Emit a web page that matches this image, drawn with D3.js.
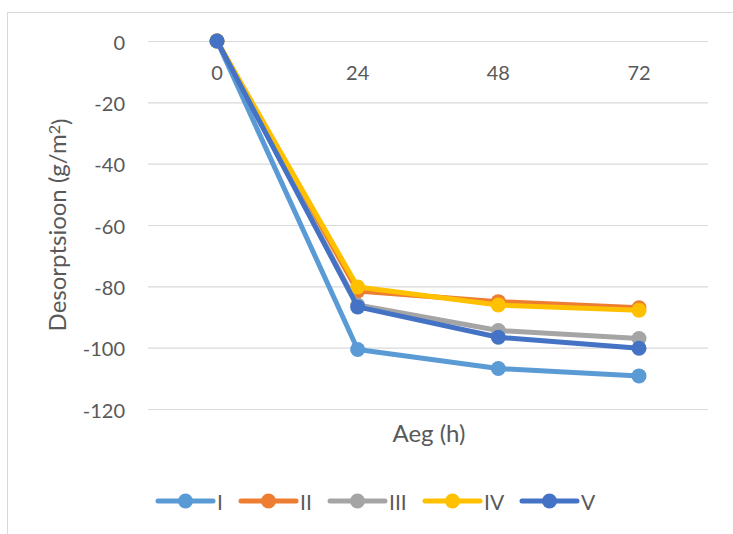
<!DOCTYPE html>
<html>
<head>
<meta charset="utf-8">
<script src="https://cdn.jsdelivr.net/npm/d3@7"></script>
<style>
  body { margin: 0; background: #fff; }
  svg text { font-family: Lato, "Open Sans", sans-serif; fill: #595959; }
</style>
</head>
<body>
<div id="chart"></div>
<script>
// data
var hours = ["0", "24", "48", "72"];
var seriesNames = ["I", "II", "III", "IV", "V"];
var seriesColors = ["#5B9BD5", "#ED7D31", "#A5A5A5", "#FFC000", "#4472C4"];
var valsI   = [0, -100.6, -106.8, -109.2];
var valsII  = [0, -81.5, -85.0, -87.0];
var valsIII = [0, -86.1, -94.4, -97.0];
var valsIV  = [0, -80.2, -86.1, -87.8];
var valsV   = [0, -86.7, -96.6, -100.2];
var yTicks = [0, -20, -40, -60, -80, -100, -120];

var allVals = [valsI, valsII, valsIII, valsIV, valsV];

var W = 733, H = 534;
var svg = d3.select("#chart").append("svg")
  .attr("width", W).attr("height", H);

// chart frame
svg.append("rect")
  .attr("x", 7.5).attr("y", 12.5)
  .attr("width", W).attr("height", H)
  .style("fill", "none").style("stroke", "#d9d9d9");

var x = d3.scalePoint().domain(hours).range([217, 639]);
var y = d3.scaleLinear().domain([-120, 0]).range([409, 41]);

// gridlines
svg.append("g")
  .selectAll("line")
  .data(yTicks)
  .enter()
  .append("line")
  .attr("x1", 148).attr("x2", 708)
  .attr("y1", function(d) { return y(d) + 0.5; })
  .attr("y2", function(d) { return y(d) + 0.5; })
  .style("stroke", "#d9d9d9").style("stroke-width", "1.2px");

// y tick labels
svg.append("g")
  .selectAll("text")
  .data(yTicks)
  .enter()
  .append("text")
  .attr("x", 125)
  .attr("y", function(d) { return y(d) + 8.5; })
  .attr("text-anchor", "end")
  .style("font-size", "20px")
  .text(function(d) { return d; });

// x tick labels (sit just under the zero line)
svg.append("g")
  .selectAll("text")
  .data(hours)
  .enter()
  .append("text")
  .attr("x", function(d) { return x(d); })
  .attr("y", 80)
  .attr("text-anchor", "middle")
  .style("font-size", "20px")
  .text(function(d) { return d; });

// axis titles
svg.append("text")
  .attr("x", 429).attr("y", 442)
  .attr("text-anchor", "middle")
  .style("font-size", "24px")
  .text("Aeg (h)");

var yt = svg.append("text")
  .attr("transform", "translate(66,225) rotate(-90)")
  .attr("text-anchor", "middle")
  .style("font-size", "24px");
yt.append("tspan").text("Desorptsioon (g/m");
yt.append("tspan").attr("dy", "-0.4em").style("font-size", "16px").text("2");
yt.append("tspan").attr("dy", "0.4em").text(")");

// series
var line = d3.line()
  .x(function(d, i) { return x(hours[i]); })
  .y(function(d) { return y(d); });

var objs = svg.append("g")
  .selectAll("g")
  .data(allVals)
  .enter()
  .append("g");

objs.append("path")
  .attr("d", function(d) { return line(d); })
  .style("fill", "none")
  .style("stroke", function(d, i) { return seriesColors[i]; })
  .style("stroke-width", "5px")
  .style("stroke-linejoin", "round")
  .style("stroke-linecap", "round");

objs.selectAll("circle")
  .data(function(d, i) { return d.map(function(v) { return { v: v, s: i }; }); })
  .enter()
  .append("circle")
  .attr("cx", function(d, j) { return x(hours[j]); })
  .attr("cy", function(d) { return y(d.v); })
  .attr("r", 7.5)
  .style("fill", function(d) { return seriesColors[d.s]; });

// legend
var legX = [158, 241, 330, 425, 522];
var leg = svg.append("g")
  .selectAll("g")
  .data(seriesNames)
  .enter()
  .append("g")
  .attr("transform", function(d, i) { return "translate(" + legX[i] + ",501)"; });

leg.append("line")
  .attr("x1", 0).attr("x2", 55)
  .style("stroke", function(d, i) { return seriesColors[i]; })
  .style("stroke-width", "5px")
  .style("stroke-linecap", "round");

leg.append("circle")
  .attr("cx", 27.5).attr("r", 7.5)
  .style("fill", function(d, i) { return seriesColors[i]; });

leg.append("text")
  .attr("x", 59)
  .attr("y", 8.5)
  .style("font-size", "21px")
  .text(function(d) { return d; });
</script>
</body>
</html>
